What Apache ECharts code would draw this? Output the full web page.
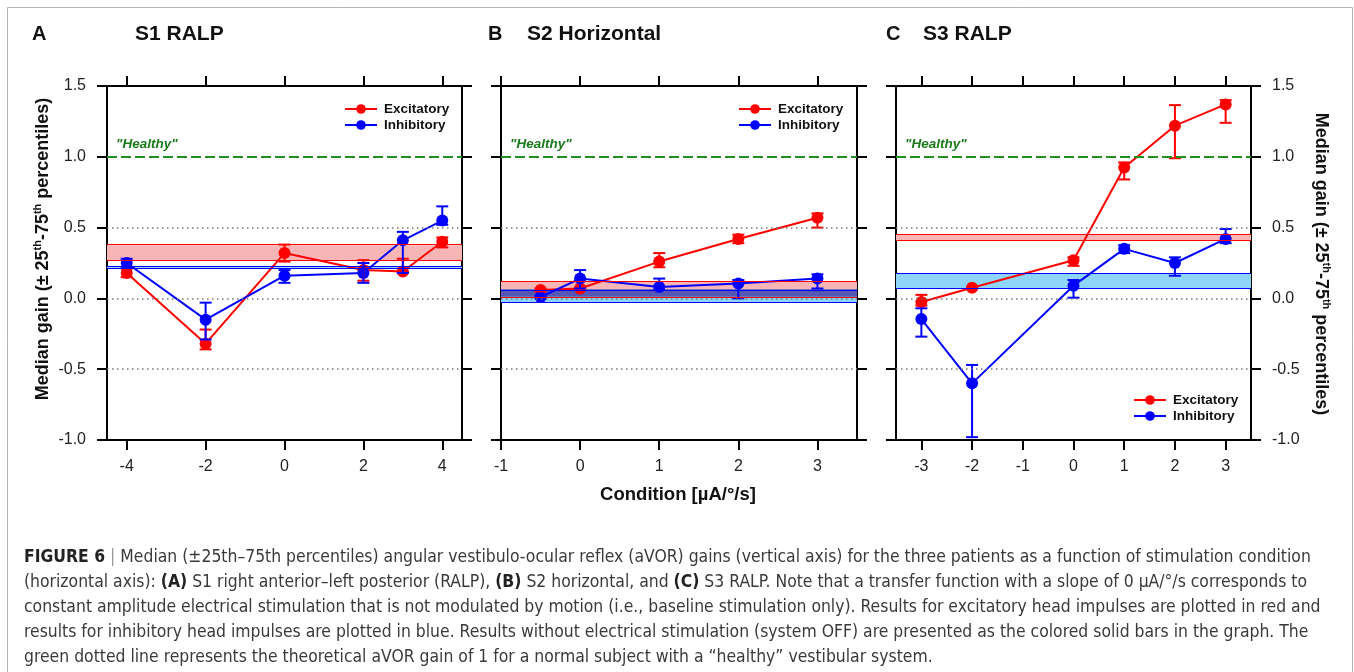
<!DOCTYPE html>
<html>
<head>
<meta charset="utf-8">
<script src="https://cdn.jsdelivr.net/npm/echarts@6/dist/echarts.min.js"></script>
<style>
  html, body { margin: 0; padding: 0; background: #fff; }
  #fig6 { width: 1354px; height: 672px; }
</style>
</head>
<body>
<div id="fig6"></div>
<script>
// panel A: S1 RALP
var xA = [-4, -2, 0, 2, 3, 4];
var excA = [0.18, -0.32, 0.32, 0.20, 0.19, 0.40];
var excLoA = [0.15, -0.36, 0.26, 0.125, 0.18, 0.36];
var excHiA = [0.21, -0.22, 0.38, 0.27, 0.28, 0.43];
var inhA = [0.25, -0.15, 0.16, 0.18, 0.41, 0.55];
var inhLoA = [0.22, -0.29, 0.11, 0.11, 0.18, 0.52];
var inhHiA = [0.28, -0.03, 0.20, 0.25, 0.47, 0.65];
var offExcA = [0.266, 0.376];
var offInhA = [0.207, 0.228];

// panel B: S2 Horizontal
var xB = [-0.5, 0, 1, 2, 3];
var excB = [0.06, 0.07, 0.26, 0.42, 0.57];
var excLoB = [0.05, 0.06, 0.22, 0.39, 0.50];
var excHiB = [0.07, 0.08, 0.32, 0.45, 0.60];
var inhB = [0.01, 0.14, 0.08, 0.105, 0.14];
var inhLoB = [0.0, 0.07, 0.06, 0.0, 0.07];
var inhHiB = [0.02, 0.20, 0.14, 0.13, 0.17];
var offExcB = [0.012, 0.122];
var offInhB = [-0.028, 0.064];

// panel C: S3 RALP
var xC = [-3, -2, 0, 1, 2, 3];
var excC = [-0.025, 0.075, 0.27, 0.925, 1.22, 1.37];
var excLoC = [-0.05, 0.07, 0.23, 0.84, 0.99, 1.24];
var excHiC = [0.025, 0.08, 0.29, 0.96, 1.365, 1.40];
var inhC = [-0.146, -0.60, 0.09, 0.35, 0.25, 0.42];
var inhLoC = [-0.27, -0.98, 0.005, 0.32, 0.16, 0.39];
var inhHiC = [-0.07, -0.47, 0.13, 0.376, 0.29, 0.49];
var offExcC = [0.41, 0.447];
var offInhC = [0.066, 0.18];

// axes
var xTicksA = [-4, -2, 0, 2, 4];
var xTicksB = [-1, 0, 1, 2, 3];
var xTicksC = [-3, -2, -1, 0, 1, 2, 3];
var dottedLevels = [-0.5, 0, 0.5];
var healthyGain = 1.0;

var letters = ['A', 'B', 'C'];
var titles = ['S1 RALP', 'S2 Horizontal', 'S3 RALP'];
var seriesNames = ['Excitatory', 'Inhibitory'];

var captionLines = [
  '{b|FIGURE 6} {g||} Median (±25th–75th percentiles) angular vestibulo-ocular reflex (aVOR) gains (vertical axis) for the three patients as a function of stimulation condition',
  '(horizontal axis): {b|(A)} S1 right anterior–left posterior (RALP), {b|(B)} S2 horizontal, and {b|(C)} S3 RALP. Note that a transfer function with a slope of 0 µA/°/s corresponds to',
  'constant amplitude electrical stimulation that is not modulated by motion (i.e., baseline stimulation only). Results for excitatory head impulses are plotted in red and',
  'results for inhibitory head impulses are plotted in blue. Results without electrical stimulation (system OFF) are presented as the colored solid bars in the graph. The',
  'green dotted line represents the theoretical aVOR gain of 1 for a normal subject with a “healthy” vestibular system.'
];

var RED = '#ff0000', BLUE = '#0000ff';
var SANS = "'Liberation Sans', Arial, sans-serif";
var NARROW = "'Liberation Sans Narrow', 'DejaVu Sans Condensed', sans-serif";

var panels = [
  {x: xA, exc: excA, excLo: excLoA, excHi: excHiA, inh: inhA, inhLo: inhLoA, inhHi: inhHiA,
   offExc: offExcA, offInh: offInhA, min: -4.5, max: 4.5, ticks: xTicksA,
   grid: {left: 107, top: 86, width: 355, height: 354}, legend: {left: 344, top: 102}},
  {x: xB, exc: excB, excLo: excLoB, excHi: excHiB, inh: inhB, inhLo: inhLoB, inhHi: inhHiB,
   offExc: offExcB, offInh: offInhB, min: -1, max: 3.5, ticks: xTicksB,
   grid: {left: 501, top: 86, width: 356, height: 354}, legend: {left: 738, top: 102}},
  {x: xC, exc: excC, excLo: excLoC, excHi: excHiC, inh: inhC, inhLo: inhLoC, inhHi: inhHiC,
   offExc: offExcC, offInh: offInhC, min: -3.5, max: 3.5, ticks: xTicksC,
   grid: {left: 896, top: 86, width: 355, height: 354}, legend: {left: 1133, top: 393}}
];

function errorBars(color) {
  return function (params, api) {
    var x = api.value(0);
    var lo = api.coord([x, api.value(1)]);
    var hi = api.coord([x, api.value(2)]);
    var cap = 6;
    var st = {stroke: color, lineWidth: 2};
    return {
      type: 'group',
      children: [
        {type: 'line', shape: {x1: lo[0], y1: lo[1], x2: hi[0], y2: hi[1]}, style: st},
        {type: 'line', shape: {x1: hi[0] - cap, y1: hi[1], x2: hi[0] + cap, y2: hi[1]}, style: st},
        {type: 'line', shape: {x1: lo[0] - cap, y1: lo[1], x2: lo[0] + cap, y2: lo[1]}, style: st}
      ]
    };
  };
}

function zip(a, b) { return a.map(function (v, i) { return [v, b[i]]; }); }
function zip3(a, b, c) { return a.map(function (v, i) { return [v, b[i], c[i]]; }); }

var grids = [], xAxes = [], yAxes = [], series = [], legends = [];
var axisLine = {show: true, onZero: false, lineStyle: {color: '#000', width: 2}};

panels.forEach(function (p, i) {
  grids.push(p.grid);
  ['bottom', 'top'].forEach(function (pos) {
    xAxes.push({
      type: 'value', gridIndex: i, position: pos, min: p.min, max: p.max,
      axisLine: axisLine,
      axisTick: {show: true, length: 10, customValues: p.ticks, lineStyle: {color: '#000', width: 2}},
      axisLabel: {show: pos === 'bottom', customValues: p.ticks, margin: 19,
        fontSize: 16, fontFamily: SANS, color: '#222'},
      splitLine: {show: false}
    });
  });
  ['left', 'right'].forEach(function (pos) {
    var showLab = (pos === 'left' && i === 0) || (pos === 'right' && i === 2);
    yAxes.push({
      type: 'value', gridIndex: i, position: pos, min: -1, max: 1.5, interval: 0.5,
      axisLine: axisLine,
      axisTick: {show: true, length: 10, lineStyle: {color: '#000', width: 2}},
      axisLabel: {show: showLab, margin: 21, fontSize: 16, fontFamily: SANS, color: '#222',
        formatter: function (v) { return v.toFixed(1); }},
      splitLine: {show: false}
    });
  });

  var xi = 2 * i, yi = 2 * i;
  // system OFF bands (fills)
  var areas = [
    [{yAxis: p.offExc[0], itemStyle: {color: '#f7b5b5'}}, {yAxis: p.offExc[1]}],
    [{yAxis: p.offInh[0], itemStyle: {color: '#8ed6f7'}}, {yAxis: p.offInh[1]}]
  ];
  var ovLo = Math.max(p.offExc[0], p.offInh[0]), ovHi = Math.min(p.offExc[1], p.offInh[1]);
  if (ovHi > ovLo) {
    areas.push([{yAxis: ovLo, itemStyle: {color: '#5656b4'}}, {yAxis: ovHi}]);
  }
  series.push({
    type: 'line', xAxisIndex: xi, yAxisIndex: yi, data: [], z: 1, silent: true,
    markArea: {silent: true, itemStyle: {opacity: 1, borderWidth: 0}, data: areas}
  });

  // reference lines and band edges
  var lines = [];
  dottedLevels.forEach(function (v) {
    lines.push({yAxis: v, lineStyle: {color: '#777', width: 1.5, type: [1.5, 3.5]}, label: {show: false}});
  });
  p.offExc.forEach(function (v) {
    lines.push({yAxis: v, lineStyle: {color: RED, width: 1.2, type: 'solid'}, label: {show: false}});
  });
  p.offInh.forEach(function (v) {
    lines.push({yAxis: v, lineStyle: {color: BLUE, width: 1.2, type: 'solid'}, label: {show: false}});
  });
  lines.push({
    yAxis: healthyGain, lineStyle: {color: '#1f8f1f', width: 1.8, type: [10, 4]},
    label: {show: true, position: 'insideStartTop', formatter: '"Healthy"', distance: [9, 6],
      color: '#1a7a1a', fontStyle: 'italic', fontWeight: 'bold', fontSize: 13.5, fontFamily: SANS}
  });
  series.push({
    type: 'line', xAxisIndex: xi, yAxisIndex: yi, data: [], z: 2, silent: true,
    markLine: {silent: true, symbol: ['none', 'none'], animation: false, data: lines}
  });

  // data
  [[seriesNames[0], RED, p.exc, p.excLo, p.excHi], [seriesNames[1], BLUE, p.inh, p.inhLo, p.inhHi]]
    .forEach(function (s) {
      series.push({
        name: s[0], type: 'line', xAxisIndex: xi, yAxisIndex: yi, z: 3,
        data: zip(p.x, s[2]), symbol: 'circle', symbolSize: 12, showSymbol: true,
        lineStyle: {color: s[1], width: 2}, itemStyle: {color: s[1]}
      });
      series.push({
        name: s[0], type: 'custom', xAxisIndex: xi, yAxisIndex: yi, z: 4,
        renderItem: errorBars(s[1]), data: zip3(p.x, s[3], s[4]),
        encode: {x: 0, y: [1, 2]}, itemStyle: {color: s[1]}
      });
    });

  legends.push({
    left: p.legend.left, top: p.legend.top, orient: 'vertical', padding: 0,
    itemWidth: 32, itemHeight: 12, itemGap: 2, selectedMode: false,
    data: seriesNames,
    textStyle: {fontWeight: 'bold', fontSize: 13.5, fontFamily: SANS, color: '#111', padding: [0, 0, 0, 2]}
  });
});

// caption font size: fit first line to the width it has in the figure
function captionSize(target) {
  var ctx = document.createElement('canvas').getContext('2d');
  var plain = captionLines[0].replace(/\{b\|([^}]*)\}/g, '').replace(/\{g\|([^}]*)\}/g, '|');
  ctx.font = '20px ' + NARROW;
  var w = ctx.measureText(plain).width;
  ctx.font = 'bold 20px ' + NARROW;
  w += ctx.measureText('FIGURE 6').width;
  return 20 * target / w;
}
var capSize = captionSize(1288);

// texts
var graphics = [
  {type: 'rect', shape: {x: 7.5, y: 7.5, width: 1345, height: 720}, style: {fill: null, stroke: '#b4b4b4', lineWidth: 1}, silent: true}
];
var letterX = [32, 488, 886], titleX = [135, 527, 923];
letters.forEach(function (l, i) {
  graphics.push({type: 'text', style: {text: l, x: letterX[i], y: 34, verticalAlign: 'middle',
    fontSize: 20, fontWeight: 'bold', fontFamily: SANS, fill: '#111'}});
  graphics.push({type: 'text', style: {text: titles[i], x: titleX[i], y: 34, verticalAlign: 'middle',
    fontSize: 21, fontWeight: 'bold', fontFamily: SANS, fill: '#111'}});
});

var yTitle = '{n|Median gain (± 25}{s|th}{n|-75}{s|th}{n| percentiles)}';
var yRich = {
  n: {fontSize: 18, fontWeight: 'bold', fontFamily: SANS, fill: '#111', lineHeight: 22, verticalAlign: 'middle'},
  s: {fontSize: 11, fontWeight: 'bold', fontFamily: SANS, fill: '#111', lineHeight: 22, verticalAlign: 'top'}
};
graphics.push({type: 'text', x: 43, y: 249, rotation: Math.PI / 2,
  style: {text: yTitle, rich: yRich, align: 'center', verticalAlign: 'middle'}});
graphics.push({type: 'text', x: 1321, y: 264, rotation: -Math.PI / 2,
  style: {text: yTitle, rich: yRich, align: 'center', verticalAlign: 'middle'}});

graphics.push({type: 'text', style: {text: 'Condition [µA/°/s]', x: 678, y: 495, align: 'center',
  verticalAlign: 'middle', fontSize: 18.5, fontWeight: 'bold', fontFamily: SANS, fill: '#111'}});

var capRich = {
  b: {fontSize: capSize, fontWeight: 'bold', fontFamily: NARROW, fill: '#222'},
  g: {fontSize: capSize, fontFamily: NARROW, fill: '#999'}
};
captionLines.forEach(function (t, i) {
  graphics.push({type: 'text', style: {text: t, rich: capRich, x: 24, y: 557 + i * 25, verticalAlign: 'middle',
    fontSize: capSize, fontFamily: NARROW, fill: '#3a3a3a'}});
});

var option = {
  animation: false,
  backgroundColor: '#fff',
  grid: grids,
  xAxis: xAxes,
  yAxis: yAxes,
  legend: legends,
  series: series,
  graphic: graphics
};

var chart = echarts.init(document.getElementById('fig6'), null, {renderer: 'canvas'});
chart.setOption(option);
</script>
</body>
</html>
